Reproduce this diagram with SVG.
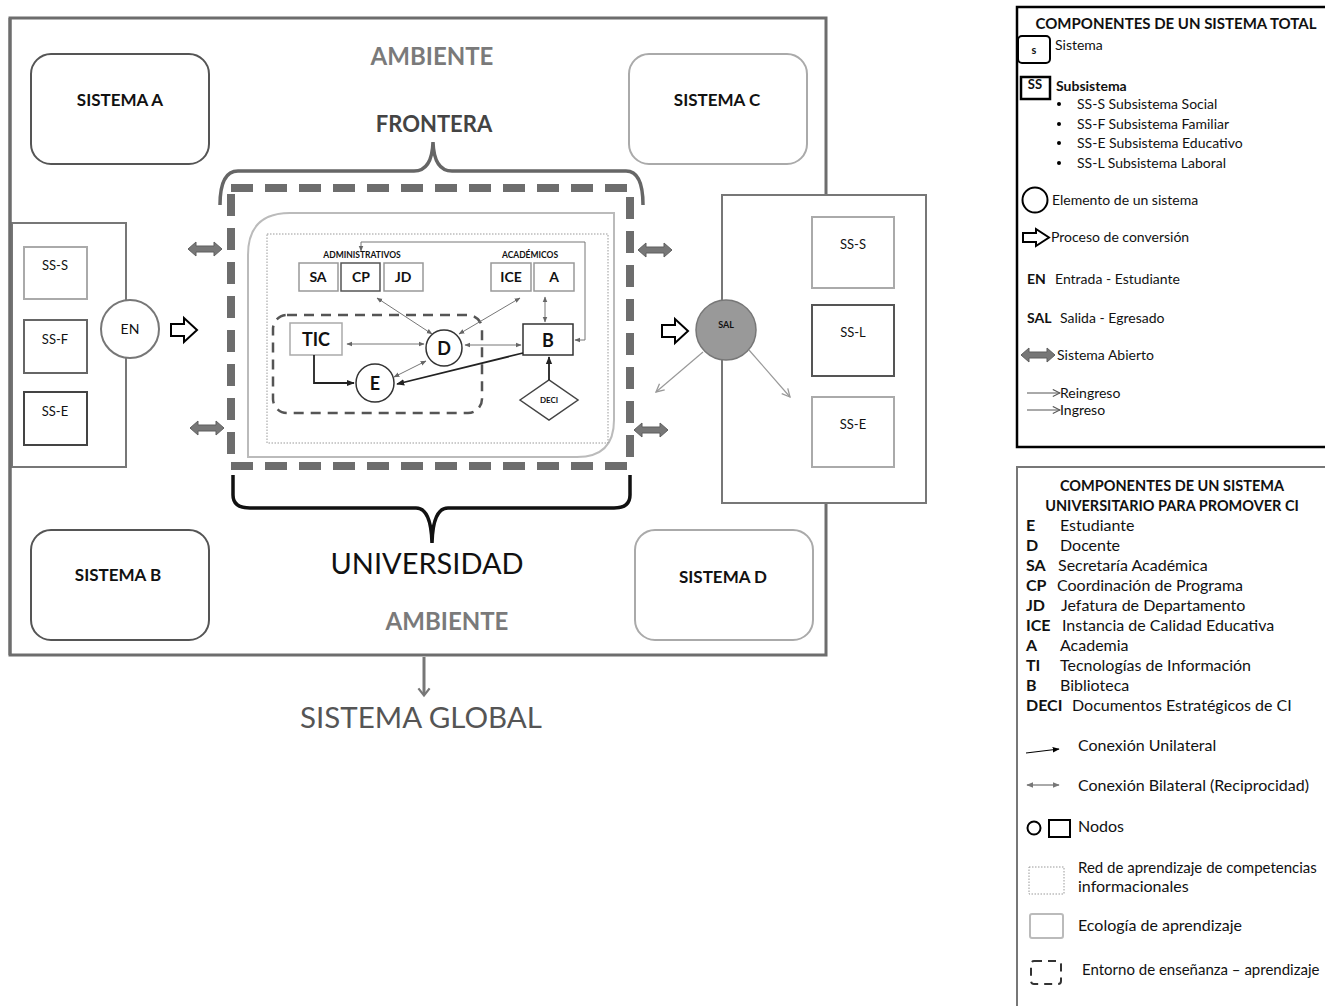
<svg xmlns="http://www.w3.org/2000/svg" width="1325" height="1006" viewBox="0 0 1325 1006">
<style>
text{font-family:Lato,"Liberation Sans",sans-serif;fill:#111}
.b{font-weight:bold}
.c{text-anchor:middle}
.sys{fill:#fff;stroke-width:2}
.sub{fill:#fff;stroke-width:2}
.node{fill:#fff;stroke-width:1.5}
.thin{stroke:#777;stroke-width:1;fill:none}
.dark{stroke:#222;stroke-width:1.8;fill:none}
.open{fill:#777;stroke:#5f5f5f;stroke-width:1}
.hollow{fill:#fff;stroke:#000;stroke-width:2;stroke-linejoin:miter}
.lg{font-size:14px}
.lg2{font-size:16px}
</style>
<defs>
<marker id="ag" viewBox="0 0 10 10" refX="9" refY="5" markerWidth="6" markerHeight="6" orient="auto-start-reverse" markerUnits="userSpaceOnUse"><path d="M0,1 L10,5 L0,9 Z" fill="#666"/></marker>
<marker id="ad" viewBox="0 0 10 10" refX="9" refY="5" markerWidth="8" markerHeight="8" orient="auto-start-reverse" markerUnits="userSpaceOnUse"><path d="M0,1 L10,5 L0,9 Z" fill="#222"/></marker>
<marker id="av" viewBox="0 0 10 10" refX="9" refY="5" markerWidth="10" markerHeight="10" orient="auto" markerUnits="userSpaceOnUse"><path d="M1,1 L9,5 L1,9" fill="none" stroke="#999" stroke-width="1.3"/></marker>
<marker id="al" viewBox="0 0 10 10" refX="9" refY="5" markerWidth="9" markerHeight="9" orient="auto" markerUnits="userSpaceOnUse"><path d="M1,1 L9,5 L1,9" fill="none" stroke="#555" stroke-width="1.2"/></marker>
<marker id="ab" viewBox="0 0 10 10" refX="9" refY="5" markerWidth="7" markerHeight="7" orient="auto-start-reverse" markerUnits="userSpaceOnUse"><path d="M0,1 L10,5 L0,9 Z" fill="#000"/></marker>
<marker id="agl" viewBox="0 0 10 10" refX="9" refY="5" markerWidth="7" markerHeight="7" orient="auto-start-reverse" markerUnits="userSpaceOnUse"><path d="M0,1 L10,5 L0,9 Z" fill="#777"/></marker>
<marker id="ag2" viewBox="0 0 10 10" refX="5" refY="5" markerWidth="14" markerHeight="14" orient="auto" markerUnits="userSpaceOnUse"><path d="M1,1 L6,5 L1,9" fill="none" stroke="#777" stroke-width="1.6"/></marker>
<polygon id="dbl" points="-17,0 -9,-7 -9,-3 9,-3 9,-7 17,0 9,7 9,3 -9,3 -9,7" class="open"/>
<polygon id="hol" points="-13,-6 0,-6 0,-12 13,0 0,12 0,6 -13,6" class="hollow"/>
</defs>

<!-- outer frame (global system) -->
<g id="global">
<rect x="10" y="18" width="816" height="637" fill="#fff" stroke="#6d6d6d" stroke-width="3"/>
<text x="432" y="65" class="b c" font-size="24" style="fill:#7a7a7a">AMBIENTE</text>
<text x="447" y="630" class="b c" font-size="24" style="fill:#7a7a7a">AMBIENTE</text>
<text x="434" y="132" class="b c" font-size="22" style="fill:#444">FRONTERA</text>
<text x="427" y="574" class="c" font-size="29">UNIVERSIDAD</text>
<text x="421" y="728" class="c" font-size="29.5" style="fill:#555">SISTEMA GLOBAL</text>
</g>

<g id="sistema-a"><rect x="31" y="54" width="178" height="110" rx="20" class="sys" stroke="#555"/><text x="120" y="106" class="b c" font-size="17">SISTEMA A</text></g>
<g id="sistema-c"><rect x="629" y="54" width="178" height="110" rx="20" class="sys" stroke="#aaa"/><text x="717" y="106" class="b c" font-size="17">SISTEMA C</text></g>
<g id="sistema-b"><rect x="31" y="530" width="178" height="110" rx="20" class="sys" stroke="#555"/><text x="118" y="581" class="b c" font-size="17">SISTEMA B</text></g>
<g id="sistema-d"><rect x="635" y="530" width="178" height="110" rx="20" class="sys" stroke="#aaa"/><text x="723" y="583" class="b c" font-size="17">SISTEMA D</text></g>

<!-- entrada -->
<g id="entrada">
<rect x="12" y="223" width="114" height="244" fill="#fff" stroke="#777" stroke-width="2"/>
<line x1="10" y1="18" x2="10" y2="655" stroke="#6d6d6d" stroke-width="3"/>
<rect x="24" y="247" width="63" height="52" class="sub" stroke="#aaa"/><text x="55" y="270" class="c" font-size="13">SS-S</text>
<rect x="24" y="320" width="63" height="53" class="sub" stroke="#666"/><text x="55" y="344" class="c" font-size="13">SS-F</text>
<rect x="24" y="392" width="63" height="53" class="sub" stroke="#444"/><text x="55" y="416" class="c" font-size="13">SS-E</text>
<circle cx="130" cy="329" r="29" fill="#fff" stroke="#777" stroke-width="2"/><text x="130" y="334" class="c" font-size="14">EN</text>
</g>

<!-- salida -->
<g id="salida">
<rect x="722" y="195" width="204" height="308" fill="#fff" stroke="#777" stroke-width="2"/>
<rect x="812" y="217" width="82" height="71" class="sub" stroke="#aaa"/><text x="853" y="249" class="c" font-size="13">SS-S</text>
<rect x="812" y="305" width="82" height="71" class="sub" stroke="#555"/><text x="853" y="337" class="c" font-size="13">SS-L</text>
<rect x="812" y="397" width="82" height="70" class="sub" stroke="#aaa"/><text x="853" y="429" class="c" font-size="13">SS-E</text>
<circle cx="726" cy="330" r="30" fill="#999" stroke="#777" stroke-width="1.5"/><text x="726" y="328" class="b c" font-size="9">SAL</text>
</g>

<!-- university -->
<g id="universidad">
<path d="M248,457 L248,255 Q248,213 290,213 L614,213 L614,420 Q614,457 577,457 Z" fill="#fff" stroke="#bbb" stroke-width="2"/>
<rect x="267" y="234" width="341" height="209" fill="none" stroke="#999" stroke-width="1" stroke-dasharray="1.5,1.5"/>
<rect x="273" y="315" width="209" height="98" rx="14" fill="none" stroke="#555" stroke-width="2.5" stroke-dasharray="10,7"/>
<rect x="231" y="188" width="399" height="278" fill="none" stroke="#6d6d6d" stroke-width="8" stroke-dasharray="22,12"/>
<path d="M220,205 Q220,171 238,171 L414,171 Q432,171 433,142 Q434,171 452,171 L626,171 Q643,171 643,205" fill="none" stroke="#666" stroke-width="3.5"/>
<path d="M233,475 L233,495 Q233,508 250,508 L416,508 Q431,508 432,543 Q433,508 448,508 L614,508 Q630,508 630,495 L630,475" fill="none" stroke="#111" stroke-width="3.5"/>
<text x="362" y="258" class="b c" font-size="8.5">ADMINISTRATIVOS</text>
<text x="530" y="258" class="b c" font-size="8.5">ACADÉMICOS</text>
</g>

<g id="sa"><rect x="299" y="263" width="39" height="28" class="node" stroke="#999"/><text x="318" y="282" class="b c" font-size="14">SA</text></g>
<g id="cp"><rect x="341" y="263" width="39" height="28" class="node" stroke="#555"/><text x="361" y="282" class="b c" font-size="14">CP</text></g>
<g id="jd"><rect x="384" y="263" width="39" height="28" class="node" stroke="#999"/><text x="403" y="282" class="b c" font-size="14">JD</text></g>
<g id="ice"><rect x="491" y="263" width="40" height="28" class="node" stroke="#999"/><text x="511" y="282" class="b c" font-size="14">ICE</text></g>
<g id="a"><rect x="534" y="263" width="40" height="28" class="node" stroke="#999"/><text x="554" y="282" class="b c" font-size="14">A</text></g>
<g id="tic"><rect x="290" y="323" width="52" height="32" class="node" stroke="#aaa"/><text x="316" y="346" class="b c" font-size="18">TIC</text></g>
<g id="d"><circle cx="444" cy="348" r="18" class="node" stroke="#333"/><text x="444" y="355" class="b c" font-size="18">D</text></g>
<g id="e"><circle cx="375" cy="383" r="19" class="node" stroke="#333"/><text x="375" y="390" class="b c" font-size="18">E</text></g>
<g id="b"><rect x="523" y="324" width="50" height="31" class="node" stroke="#333"/><text x="548" y="347" class="b c" font-size="18">B</text></g>
<g id="deci"><polygon points="520,400 549,380 578,400 549,420" class="node" stroke="#444"/><text x="549" y="403" class="b c" font-size="8">DECI</text></g>

<g id="connectors">
<line x1="347" y1="344" x2="424" y2="344" class="thin" marker-start="url(#ag)" marker-end="url(#ag)"/>
<line x1="465" y1="345" x2="521" y2="345" class="thin" marker-start="url(#ag)" marker-end="url(#ag)"/>
<line x1="377" y1="298" x2="432" y2="334" class="thin" marker-start="url(#ag)" marker-end="url(#ag)"/>
<line x1="520" y1="298" x2="459" y2="334" class="thin" marker-start="url(#ag)" marker-end="url(#ag)"/>
<line x1="545" y1="297" x2="545" y2="322" class="thin" marker-start="url(#ag)" marker-end="url(#ag)"/>
<line x1="426" y1="361" x2="394" y2="377" class="thin" marker-start="url(#ag)" marker-end="url(#ag)"/>
<path d="M575,340 H585 V242 H361 V251" class="thin" stroke-width="1.3" marker-start="url(#ag)" marker-end="url(#ag)"/>
<line x1="523" y1="353" x2="397" y2="384" class="dark" marker-end="url(#ad)"/>
<path d="M314,355 V383 H354" class="dark" marker-end="url(#ad)"/>
<line x1="549" y1="380" x2="549" y2="357" class="dark" marker-end="url(#ad)"/>
<line x1="703" y1="352" x2="656" y2="392" stroke="#999" stroke-width="1.2" marker-end="url(#av)"/>
<line x1="749" y1="350" x2="790" y2="397" stroke="#999" stroke-width="1.2" marker-end="url(#av)"/>
<use href="#hol" x="184" y="330"/>
<use href="#hol" x="675" y="331"/>
<use href="#dbl" x="205" y="249"/>
<use href="#dbl" x="207" y="428"/>
<use href="#dbl" x="655" y="250"/>
<use href="#dbl" x="651" y="430"/>
<line x1="424" y1="657" x2="424" y2="694" stroke="#777" stroke-width="3" marker-end="url(#ag2)"/>
</g>

<!-- legend 1 -->
<g id="legend-total">
<rect x="1017" y="7" width="320" height="440" fill="#fff" stroke="#000" stroke-width="2.5"/>
<text x="1176" y="29" class="b c" font-size="15">COMPONENTES DE UN SISTEMA TOTAL</text>
<rect x="1018" y="36" width="32" height="27" rx="4" fill="#fff" stroke="#000" stroke-width="2"/>
<text x="1034" y="54" class="b c" font-size="11">s</text>
<text x="1055" y="50" class="lg">Sistema</text>
<rect x="1021" y="77" width="29" height="22" fill="#fff" stroke="#000" stroke-width="2.5"/>
<text x="1035" y="89" class="b c" font-size="13">SS</text>
<text x="1056" y="91" class="lg b" font-size="13">Subsistema</text>
<circle cx="1059" cy="104" r="2"/><text x="1077" y="109" class="lg">SS-S Subsistema Social</text>
<circle cx="1059" cy="124" r="2"/><text x="1077" y="129" class="lg">SS-F Subsistema Familiar</text>
<circle cx="1059" cy="143" r="2"/><text x="1077" y="148" class="lg">SS-E Subsistema  Educativo</text>
<circle cx="1059" cy="163" r="2"/><text x="1077" y="168" class="lg">SS-L Subsistema Laboral</text>
<circle cx="1035" cy="200" r="12.5" fill="#fff" stroke="#000" stroke-width="2"/>
<text x="1052" y="205" class="lg">Elemento de un sistema</text>
<polygon points="1023,233 1036,233 1036,229 1049,237.5 1036,246 1036,242 1023,242" class="hollow"/>
<text x="1051" y="242" class="lg">Proceso de conversión</text>
<text x="1027" y="284" class="lg b">EN</text><text x="1055" y="284" class="lg">Entrada - Estudiante</text>
<text x="1027" y="323" class="lg b">SAL</text><text x="1060" y="323" class="lg">Salida - Egresado</text>
<use href="#dbl" x="1038" y="355"/>
<text x="1057" y="360" class="lg">Sistema Abierto</text>
<line x1="1027" y1="393" x2="1060" y2="393" stroke="#555" stroke-width="1" marker-end="url(#al)"/>
<text x="1060" y="398" class="lg">Reingreso</text>
<line x1="1027" y1="410" x2="1060" y2="410" stroke="#555" stroke-width="1" marker-end="url(#al)"/>
<text x="1060" y="415" class="lg">Ingreso</text>
</g>

<!-- legend 2 -->
<g id="legend-universitario">
<rect x="1017" y="467" width="320" height="560" fill="#fff" stroke="#777" stroke-width="2"/>
<text x="1172" y="491" class="b c" font-size="14.5">COMPONENTES DE UN SISTEMA</text>
<text x="1172" y="511" class="b c" font-size="14.5">UNIVERSITARIO PARA PROMOVER CI</text>
<text x="1026" y="531" class="lg2 b">E</text><text x="1060" y="531" class="lg2">Estudiante</text>
<text x="1026" y="551" class="lg2 b">D</text><text x="1060" y="551" class="lg2">Docente</text>
<text x="1026" y="571" class="lg2 b">SA</text><text x="1058" y="571" class="lg2">Secretaría Académica</text>
<text x="1026" y="591" class="lg2 b">CP</text><text x="1057" y="591" class="lg2">Coordinación de Programa</text>
<text x="1026" y="611" class="lg2 b">JD</text><text x="1061" y="611" class="lg2">Jefatura de Departamento</text>
<text x="1026" y="631" class="lg2 b">ICE</text><text x="1062" y="631" class="lg2">Instancia de Calidad Educativa</text>
<text x="1026" y="651" class="lg2 b">A</text><text x="1060" y="651" class="lg2">Academia</text>
<text x="1026" y="671" class="lg2 b">TI</text><text x="1060" y="671" class="lg2">Tecnologías de Información</text>
<text x="1026" y="691" class="lg2 b">B</text><text x="1060" y="691" class="lg2">Biblioteca</text>
<text x="1026" y="711" class="lg2 b">DECI</text><text x="1072" y="711" class="lg2">Documentos Estratégicos de CI</text>
<line x1="1026" y1="753" x2="1059" y2="749" stroke="#000" stroke-width="1.2" marker-end="url(#ab)"/>
<text x="1078" y="751" class="lg2">Conexión Unilateral</text>
<line x1="1027" y1="785" x2="1059" y2="785" stroke="#555" stroke-width="1" marker-start="url(#agl)" marker-end="url(#agl)"/>
<text x="1078" y="791" class="lg2">Conexión Bilateral (Reciprocidad)</text>
<circle cx="1034" cy="828" r="6.5" fill="#fff" stroke="#000" stroke-width="2"/>
<rect x="1049" y="820" width="21" height="17" fill="#fff" stroke="#000" stroke-width="2"/>
<text x="1078" y="832" class="lg2">Nodos</text>
<rect x="1029" y="867" width="35" height="27" fill="none" stroke="#999" stroke-width="1" stroke-dasharray="1.5,1.5"/>
<text x="1078" y="873" font-size="15">Red de aprendizaje de competencias</text>
<text x="1078" y="892" class="lg2">informacionales</text>
<rect x="1030" y="914" width="33" height="24" rx="2" fill="none" stroke="#bbb" stroke-width="2"/>
<text x="1078" y="931" class="lg2">Ecología de aprendizaje</text>
<rect x="1031" y="961" width="30" height="23" rx="3" fill="none" stroke="#333" stroke-width="2" stroke-dasharray="8,6"/>
<text x="1082" y="975" font-size="15">Entorno de enseñanza – aprendizaje</text>
</g>
</svg>
